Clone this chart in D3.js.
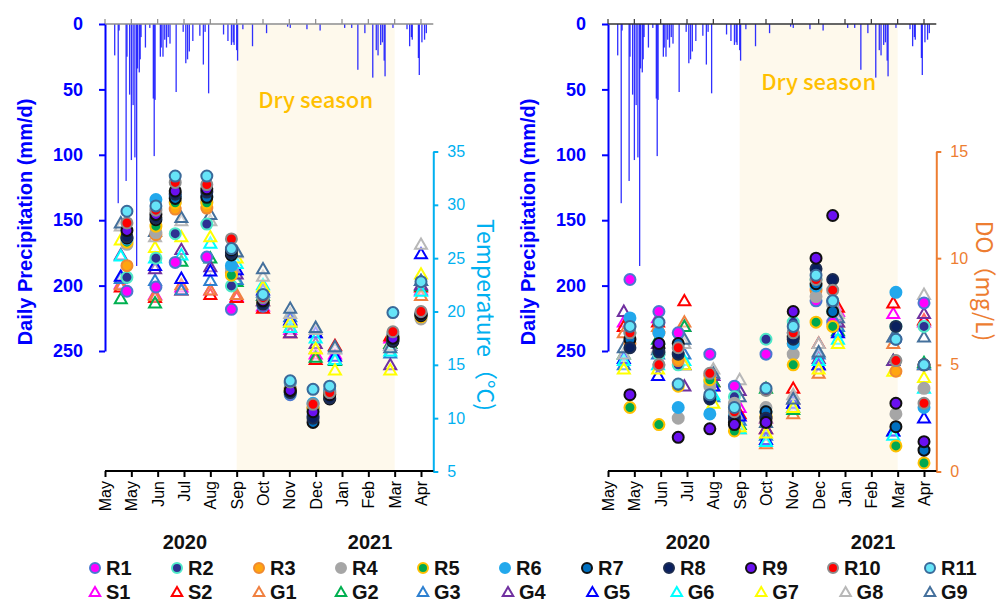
<!DOCTYPE html>
<html lang="en">
<head>
<meta charset="utf-8"/>
<title>Precipitation, temperature and DO</title>
<script src="https://d3js.org/d3.v7.min.js"></script>
<style>
  body { margin: 0; background: #fff; }
  text { font-family: "Liberation Sans", Arial, sans-serif; }
  .cjk { font-family: "Noto Sans CJK SC", "Noto Sans", sans-serif; }
</style>
</head>
<body>
<svg id="chart" width="1002" height="603"></svg>
<script>
// ---------------------------------------------
// Data (days are counted from 2020-05-01)
// ---------------------------------------------
var monthTicks = ["May", "May", "Jun", "Jul", "Aug", "Sep", "Oct", "Nov", "Dec", "Jan", "Feb", "Mar", "Apr"];
var precipTicks = [0, 50, 100, 150, 200, 250];
var tempTicks = [5, 10, 15, 20, 25, 30, 35];
var doTicks = [0, 5, 10, 15];

// daily precipitation (mm/d)
var precipDay = [11, 15, 16, 24, 25, 28, 30, 32, 34, 36, 37, 39, 40, 41, 46, 51, 55, 56, 57, 63, 64, 66, 68, 70, 72, 74,
  81, 89, 92, 94, 96, 100, 108, 112, 114, 118, 135, 140, 144, 146, 147, 150, 151, 157, 168, 184, 208, 211, 230, 245,
  273, 281, 288, 296, 305, 309, 311, 314, 316, 318, 319, 328, 344, 347, 349, 350, 357, 358, 361, 364, 366];
var precipMm = [24, 137, 5, 120, 25, 54, 104, 62, 102, 185, 34, 37, 27, 10, 18, 3, 57, 101, 58, 25, 18, 25, 12, 18, 10, 15,
  52, 6, 30, 27, 21, 13, 9, 31, 6, 53, 8, 13, 16, 14, 16, 20, 28, 4, 17, 7, 2, 3, 4, 5,
  3, 3, 35, 7, 41, 20, 24, 16, 14, 28, 40, 3, 4, 17, 10, 12, 26, 39, 14, 12, 7];

// sampling days: rivers (circles) and springs / groundwater (triangles)
var riverDays = [25, 58, 80, 116, 144, 180, 211, 237, 256, 328, 360];
var wellDays = [18, 57, 87, 120, 150, 180, 211, 240, 262, 325, 360];

// water temperature (°C)
var tempR1 = [21.9, 22.3, 24.6, 25.1, 20.2, 20.5, 12.2, 10.2, 12.5, 17.5, 19.6];
var tempR2 = [23.2, 25.0, 27.3, 28.2, 22.4, 20.8, 12.4, 10.8, 12.2, 17.4, 19.6];
var tempR3 = [24.3, 27.2, 29.6, 29.7, 23.6, 20.8, 12.8, 11.0, 12.3, 17.6, 19.7];
var tempR4 = [26.3, 27.4, 30.3, 30.3, 24.0, 21.0, 12.8, 10.9, 12.4, 17.6, 19.3];
var tempR5 = [26.5, 28.0, 30.2, 30.2, 23.4, 20.9, 12.6, 11.0, 12.3, 17.5, 19.5];
var tempR6 = [26.8, 30.5, 30.8, 30.8, 24.3, 21.2, 13.3, 11.4, 12.6, 17.9, 19.8];
var tempR7 = [26.9, 28.6, 30.6, 30.7, 25.3, 20.8, 12.5, 9.6, 11.8, 17.2, 19.6];
var tempR8 = [27.0, 28.8, 31.0, 31.2, 25.5, 20.7, 12.4, 10.0, 11.9, 17.3, 19.7];
var tempR9 = [27.6, 29.1, 31.3, 31.5, 25.8, 21.0, 12.6, 10.6, 12.2, 17.5, 19.8];
var tempR10 = [28.3, 29.5, 32.1, 31.9, 26.8, 21.3, 13.4, 11.3, 12.4, 18.1, 20.0];
var tempR11 = [29.4, 29.9, 32.7, 32.7, 25.9, 21.6, 13.5, 12.7, 13.0, 19.9, 22.8];
var tempS1 = [22.6, 21.6, 22.3, 22.0, 21.4, 20.5, 18.3, 16.0, 16.0, 17.5, 22.0];
var tempS2 = [22.3, 21.3, 22.0, 21.6, 21.3, 20.3, 18.0, 15.5, 16.8, 17.7, 22.3];
var tempG1 = [22.5, 21.5, 22.5, 22.0, 21.6, 21.0, 18.5, 16.5, 15.5, 17.0, 21.5];
var tempG2 = [21.2, 20.8, 24.7, 25.0, 22.8, 21.5, 19.0, 15.7, 15.4, 17.0, 22.4];
var tempG3 = [23.1, 22.9, 22.0, 22.9, 23.0, 21.8, 19.5, 18.0, 16.5, 16.1, 22.9];
var tempG4 = [25.3, 24.0, 25.8, 24.2, 23.5, 21.0, 18.0, 17.0, 15.5, 15.0, 22.5];
var tempG5 = [23.3, 24.3, 23.1, 23.8, 23.9, 22.0, 19.2, 18.0, 15.8, 16.8, 25.4];
var tempG6 = [25.2, 25.0, 25.3, 26.4, 24.5, 22.5, 18.5, 17.5, 15.5, 16.3, 21.9];
var tempG7 = [26.7, 26.0, 27.0, 27.0, 25.0, 22.3, 19.0, 16.5, 14.5, 14.5, 23.5];
var tempG8 = [28.0, 27.0, 28.5, 28.5, 25.5, 23.3, 19.8, 18.3, 16.5, 16.8, 26.3];
var tempG9 = [28.3, 27.5, 28.8, 29.1, 25.6, 24.0, 20.3, 18.5, 16.7, 16.6, 22.9];

// dissolved oxygen (mg/L)
var doR1 = [9.0, 7.5, 6.5, 5.5, 4.0, 5.5, 6.5, 8.0, 7.0, 6.2, 7.9];
var doR2 = [6.5, 5.5, 5.0, 4.2, 3.5, 6.2, 7.0, 9.0, 7.5, 6.8, 6.8];
var doR3 = [6.0, 6.5, 5.2, 4.5, 3.0, 2.5, 6.0, 8.5, 8.0, 4.7, 5.0];
var doR4 = [6.8, 5.0, 2.5, 4.0, 3.2, 3.0, 5.5, 8.2, 7.8, 2.7, 3.9];
var doR5 = [3.0, 2.2, 4.0, 4.3, 1.9, 2.6, 5.0, 7.0, 6.8, 1.2, 0.4];
var doR6 = [7.2, 6.5, 3.0, 2.7, 2.6, 2.8, 6.0, 8.7, 8.0, 8.4, 3.0];
var doR7 = [6.2, 5.8, 6.0, 3.5, 2.3, 2.8, 6.3, 8.8, 7.5, 2.1, 1.0];
var doR8 = [5.8, 5.6, 5.5, 3.4, 2.5, 2.5, 6.2, 9.5, 9.0, 6.8, 5.0];
var doR9 = [3.6, 6.0, 1.6, 2.0, 2.2, 2.3, 7.5, 10.0, 12.0, 3.2, 1.4];
var doR10 = [6.5, 5.0, 5.8, 4.6, 2.8, 3.8, 6.5, 9.0, 8.5, 5.2, 3.2];
var doR11 = [6.8, 7.0, 4.1, 3.6, 3.0, 3.9, 6.8, 9.2, 8.0, 6.2, 5.0];
var doS1 = [7.0, 7.2, 6.8, 4.5, 3.0, 2.5, 3.0, 5.0, 7.5, 7.4, 7.0];
var doS2 = [6.8, 7.0, 8.0, 4.2, 2.7, 2.0, 3.9, 6.0, 7.7, 7.9, 7.1];
var doG1 = [6.5, 6.8, 7.0, 4.0, 2.0, 1.3, 2.7, 4.6, 7.0, 6.0, 5.0];
var doG2 = [5.5, 6.2, 6.8, 4.2, 2.2, 3.9, 2.9, 5.0, 6.6, 5.2, 5.1];
var doG3 = [5.0, 5.5, 5.5, 3.5, 2.4, 1.7, 3.2, 5.5, 6.8, 1.9, 5.0];
var doG4 = [7.5, 6.0, 4.0, 4.5, 3.8, 2.0, 3.4, 5.3, 7.0, 5.2, 7.4];
var doG5 = [5.3, 4.5, 5.0, 4.0, 2.6, 1.5, 3.2, 5.0, 6.5, 1.9, 2.5];
var doG6 = [5.2, 5.0, 5.2, 3.6, 2.0, 1.4, 3.0, 5.2, 6.2, 1.7, 3.9];
var doG7 = [4.8, 4.8, 5.0, 3.2, 2.1, 1.8, 3.0, 4.8, 6.0, 4.7, 4.4];
var doG8 = [5.5, 5.8, 6.0, 4.8, 4.3, 2.5, 3.6, 6.0, 7.4, 6.3, 8.3];
var doG9 = [5.8, 5.7, 6.2, 4.6, 3.5, 2.3, 3.4, 5.6, 7.2, 6.3, 6.3];

var riverNames = ["R1", "R2", "R3", "R4", "R5", "R6", "R7", "R8", "R9", "R10", "R11"];
var wellNames = ["S1", "S2", "G1", "G2", "G3", "G4", "G5", "G6", "G7", "G8", "G9"];

// ---------------------------------------------
// Styles
// ---------------------------------------------
var circleFill = ["#ff00ff", "#2e3192", "#ffa510", "#a6a6a6", "#00a850", "#22a8ec", "#0070c0", "#0a2060", "#6a10f0", "#ff0000", "#66e4f8"];
var circleStroke = ["#4a78d0", "#50e8c8", "#f08a30", "#a6a6a6", "#ffc000", "#22a8ec", "#101010", "#1c2c50", "#101010", "#8c8c8c", "#3a6a9a"];
var triStroke = ["#ff00ff", "#ff0000", "#f08040", "#00b050", "#2e80d0", "#7030a0", "#0000ff", "#00ffff", "#ffff00", "#b8b8b8", "#44709c"];

var tempRiver = [tempR1, tempR2, tempR3, tempR4, tempR5, tempR6, tempR7, tempR8, tempR9, tempR10, tempR11];
var tempWell = [tempS1, tempS2, tempG1, tempG2, tempG3, tempG4, tempG5, tempG6, tempG7, tempG8, tempG9];
var doRiver = [doR1, doR2, doR3, doR4, doR5, doR6, doR7, doR8, doR9, doR10, doR11];
var doWell = [doS1, doS2, doG1, doG2, doG3, doG4, doG5, doG6, doG7, doG8, doG9];

var svg = d3.select("#chart");
var triangle = d3.symbol().type(d3.symbolTriangle).size(62);

function drawPanel(p) {
  var g = svg.append("g");
  var x = d3.scaleLinear().domain([0, 360]).range([p.x0, p.x0 + 316]);
  var xEnd = x(374);
  var yP = d3.scaleLinear().domain([0, 250]).range([24, 351]);
  var yR = d3.scaleLinear().domain(p.rightDomain).range([471.5, 151.5]);

  // dry season
  g.append("rect")
    .attr("x", x(150)).attr("y", 25)
    .attr("width", x(330) - x(150)).attr("height", 471 - 25)
    .attr("fill", "#fef9ec");
  g.append("text")
    .attr("class", "cjk")
    .attr("x", (x(150) + x(330)) / 2).attr("y", p.dryY)
    .attr("text-anchor", "middle").attr("dominant-baseline", "central")
    .attr("fill", "#ffc000").attr("font-size", 22).attr("font-weight", 500)
    .text("Dry season");

  // precipitation bars hanging from the top
  g.selectAll(".bar")
      .data(precipDay)
    .enter().append("rect")
      .attr("class", "bar")
      .attr("x", function(d) { return x(d) - 0.6; })
      .attr("y", yP(0))
      .attr("width", 1.3)
      .attr("height", function(d, i) { return yP(precipMm[i]) - yP(0); })
      .attr("fill", "#1a1aff")
      .attr("opacity", 0.9);

  // top axis line of precipitation
  g.append("line")
    .attr("x1", x(0)).attr("x2", xEnd).attr("y1", 24).attr("y2", 24)
    .attr("stroke", p.topColor).attr("stroke-width", 1.5);
  g.selectAll(".toptick")
      .data(d3.range(13))
    .enter().append("line")
      .attr("x1", function(i) { return x(i * 30); })
      .attr("x2", function(i) { return x(i * 30); })
      .attr("y1", 24).attr("y2", 19)
      .attr("stroke", p.topColor).attr("stroke-width", 1.2);

  // precipitation axis
  var ax = g.append("g")
    .attr("transform", "translate(" + x(0) + ",0)")
    .call(d3.axisLeft(yP).tickValues(precipTicks).tickSize(6).tickSizeOuter(0).tickPadding(16));
  ax.select(".domain").attr("stroke", "#0000ff").attr("stroke-width", 2);
  ax.selectAll(".tick line").attr("stroke", "#0000ff").attr("stroke-width", 2);
  ax.selectAll("text").attr("fill", "#0000ff").attr("font-size", 18).attr("font-weight", "bold")
    .attr("font-family", "Liberation Sans, Arial, sans-serif");

  g.append("text")
    .attr("transform", "translate(" + (p.x0 - 80) + ",222) rotate(-90)")
    .attr("text-anchor", "middle").attr("dominant-baseline", "central")
    .attr("fill", "#0000ff").attr("font-size", 20).attr("font-weight", "bold")
    .text("Daily Precipitation (mm/d)");

  // right axis
  var ar = g.append("g")
    .attr("transform", "translate(" + xEnd + ",0)")
    .call(d3.axisRight(yR).tickValues(p.rightTicks).tickSize(5).tickSizeOuter(0).tickPadding(9));
  ar.select(".domain").attr("stroke", p.rightColor).attr("stroke-width", 2);
  ar.selectAll(".tick line").attr("stroke", p.rightColor).attr("stroke-width", 2);
  ar.selectAll("text").attr("fill", p.rightColor).attr("font-size", 16)
    .attr("font-family", "Liberation Sans, Arial, sans-serif");

  g.append("text")
    .attr("class", "cjk")
    .attr("transform", "translate(" + (xEnd + p.titleDx) + "," + p.titleY + ") rotate(90)")
    .attr("text-anchor", "middle").attr("dominant-baseline", "central")
    .attr("fill", p.rightColor).attr("font-size", 23)
    .text(p.rightTitle);

  // bottom axis
  var ab = g.append("g")
    .attr("transform", "translate(0,471)")
    .call(d3.axisBottom(x).tickValues(d3.range(13).map(function(i) { return i * 30; }))
      .tickFormat(function(d, i) { return monthTicks[i]; }).tickSize(6).tickSizeOuter(0));
  ab.select(".domain").remove();
  ab.selectAll(".tick line").attr("stroke", "#000").attr("stroke-width", 2);
  ab.selectAll("text")
    .attr("transform", "rotate(-90)")
    .attr("text-anchor", "end")
    .attr("x", -10).attr("y", 0).attr("dy", "0.35em")
    .attr("fill", "#000").attr("font-size", 16)
    .attr("font-family", "Liberation Sans, Arial, sans-serif");
  g.append("line")
    .attr("x1", x(0)).attr("x2", xEnd).attr("y1", 471).attr("y2", 471)
    .attr("stroke", "#000").attr("stroke-width", 2);

  // year labels
  g.append("text").attr("x", x(91)).attr("y", 542)
    .attr("text-anchor", "middle").attr("dominant-baseline", "central")
    .attr("font-size", 20).attr("font-weight", "bold").attr("fill", "#111").text("2020");
  g.append("text").attr("x", x(302)).attr("y", 542)
    .attr("text-anchor", "middle").attr("dominant-baseline", "central")
    .attr("font-size", 20).attr("font-weight", "bold").attr("fill", "#111").text("2021");

  // triangles (springs / groundwater)
  p.well.forEach(function(vals, k) {
    g.selectAll(".tri" + k)
        .data(vals)
      .enter().append("path")
        .filter(function(d) { return d != null; })
        .attr("d", triangle)
        .attr("transform", function(d, i) {
          return "translate(" + x(wellDays[i]) + "," + (yR(d) + 1) + ")";
        })
        .attr("fill", "#fff").attr("fill-opacity", 0.4)
        .attr("stroke", triStroke[k]).attr("stroke-width", 2);
  });

  // circles (rivers)
  p.river.forEach(function(vals, k) {
    g.selectAll(".dot" + k)
        .data(vals)
      .enter().append("circle")
        .filter(function(d) { return d != null; })
        .attr("cx", function(d, i) { return x(riverDays[i]); })
        .attr("cy", function(d) { return yR(d); })
        .attr("r", 5.5)
        .attr("fill", circleFill[k])
        .attr("stroke", circleStroke[k]).attr("stroke-width", 2);
  });
}

drawPanel({
  x0: 105, rightDomain: [5, 35], rightTicks: tempTicks, rightColor: "#00b0f0",
  rightTitle: "Temperature（°C)", titleDx: 54, titleY: 315, dryY: 98, topColor: "#8c8c8c",
  river: tempRiver, well: tempWell
});
drawPanel({
  x0: 608, rightDomain: [0, 15], rightTicks: doTicks, rightColor: "#ed7d31",
  rightTitle: "DO（mg/L)", titleDx: 50, titleY: 281, dryY: 80, topColor: "#333",
  river: doRiver, well: doWell
});

// ---------------------------------------------
// Legend
// ---------------------------------------------
var legend = svg.append("g");
riverNames.forEach(function(name, k) {
  var lx = k < 10 ? 95 + k * 82 : 930;
  legend.append("circle").attr("cx", lx).attr("cy", 568).attr("r", 5)
    .attr("fill", circleFill[k]).attr("stroke", circleStroke[k]).attr("stroke-width", 2);
  legend.append("text").attr("x", lx + 11).attr("y", 568).attr("dominant-baseline", "central")
    .attr("font-size", 20).attr("font-weight", "bold").attr("fill", "#111").text(name);
});
wellNames.forEach(function(name, k) {
  var lx = k < 5 ? 95 + k * 82 : 508 + (k - 5) * 84.4;
  legend.append("path").attr("d", d3.symbol().type(d3.symbolTriangle).size(48))
    .attr("transform", "translate(" + lx + ",593)")
    .attr("fill", "#fff").attr("stroke", triStroke[k]).attr("stroke-width", 2);
  legend.append("text").attr("x", lx + 11).attr("y", 592).attr("dominant-baseline", "central")
    .attr("font-size", 20).attr("font-weight", "bold").attr("fill", "#111").text(name);
});
</script>
</body>
</html>
